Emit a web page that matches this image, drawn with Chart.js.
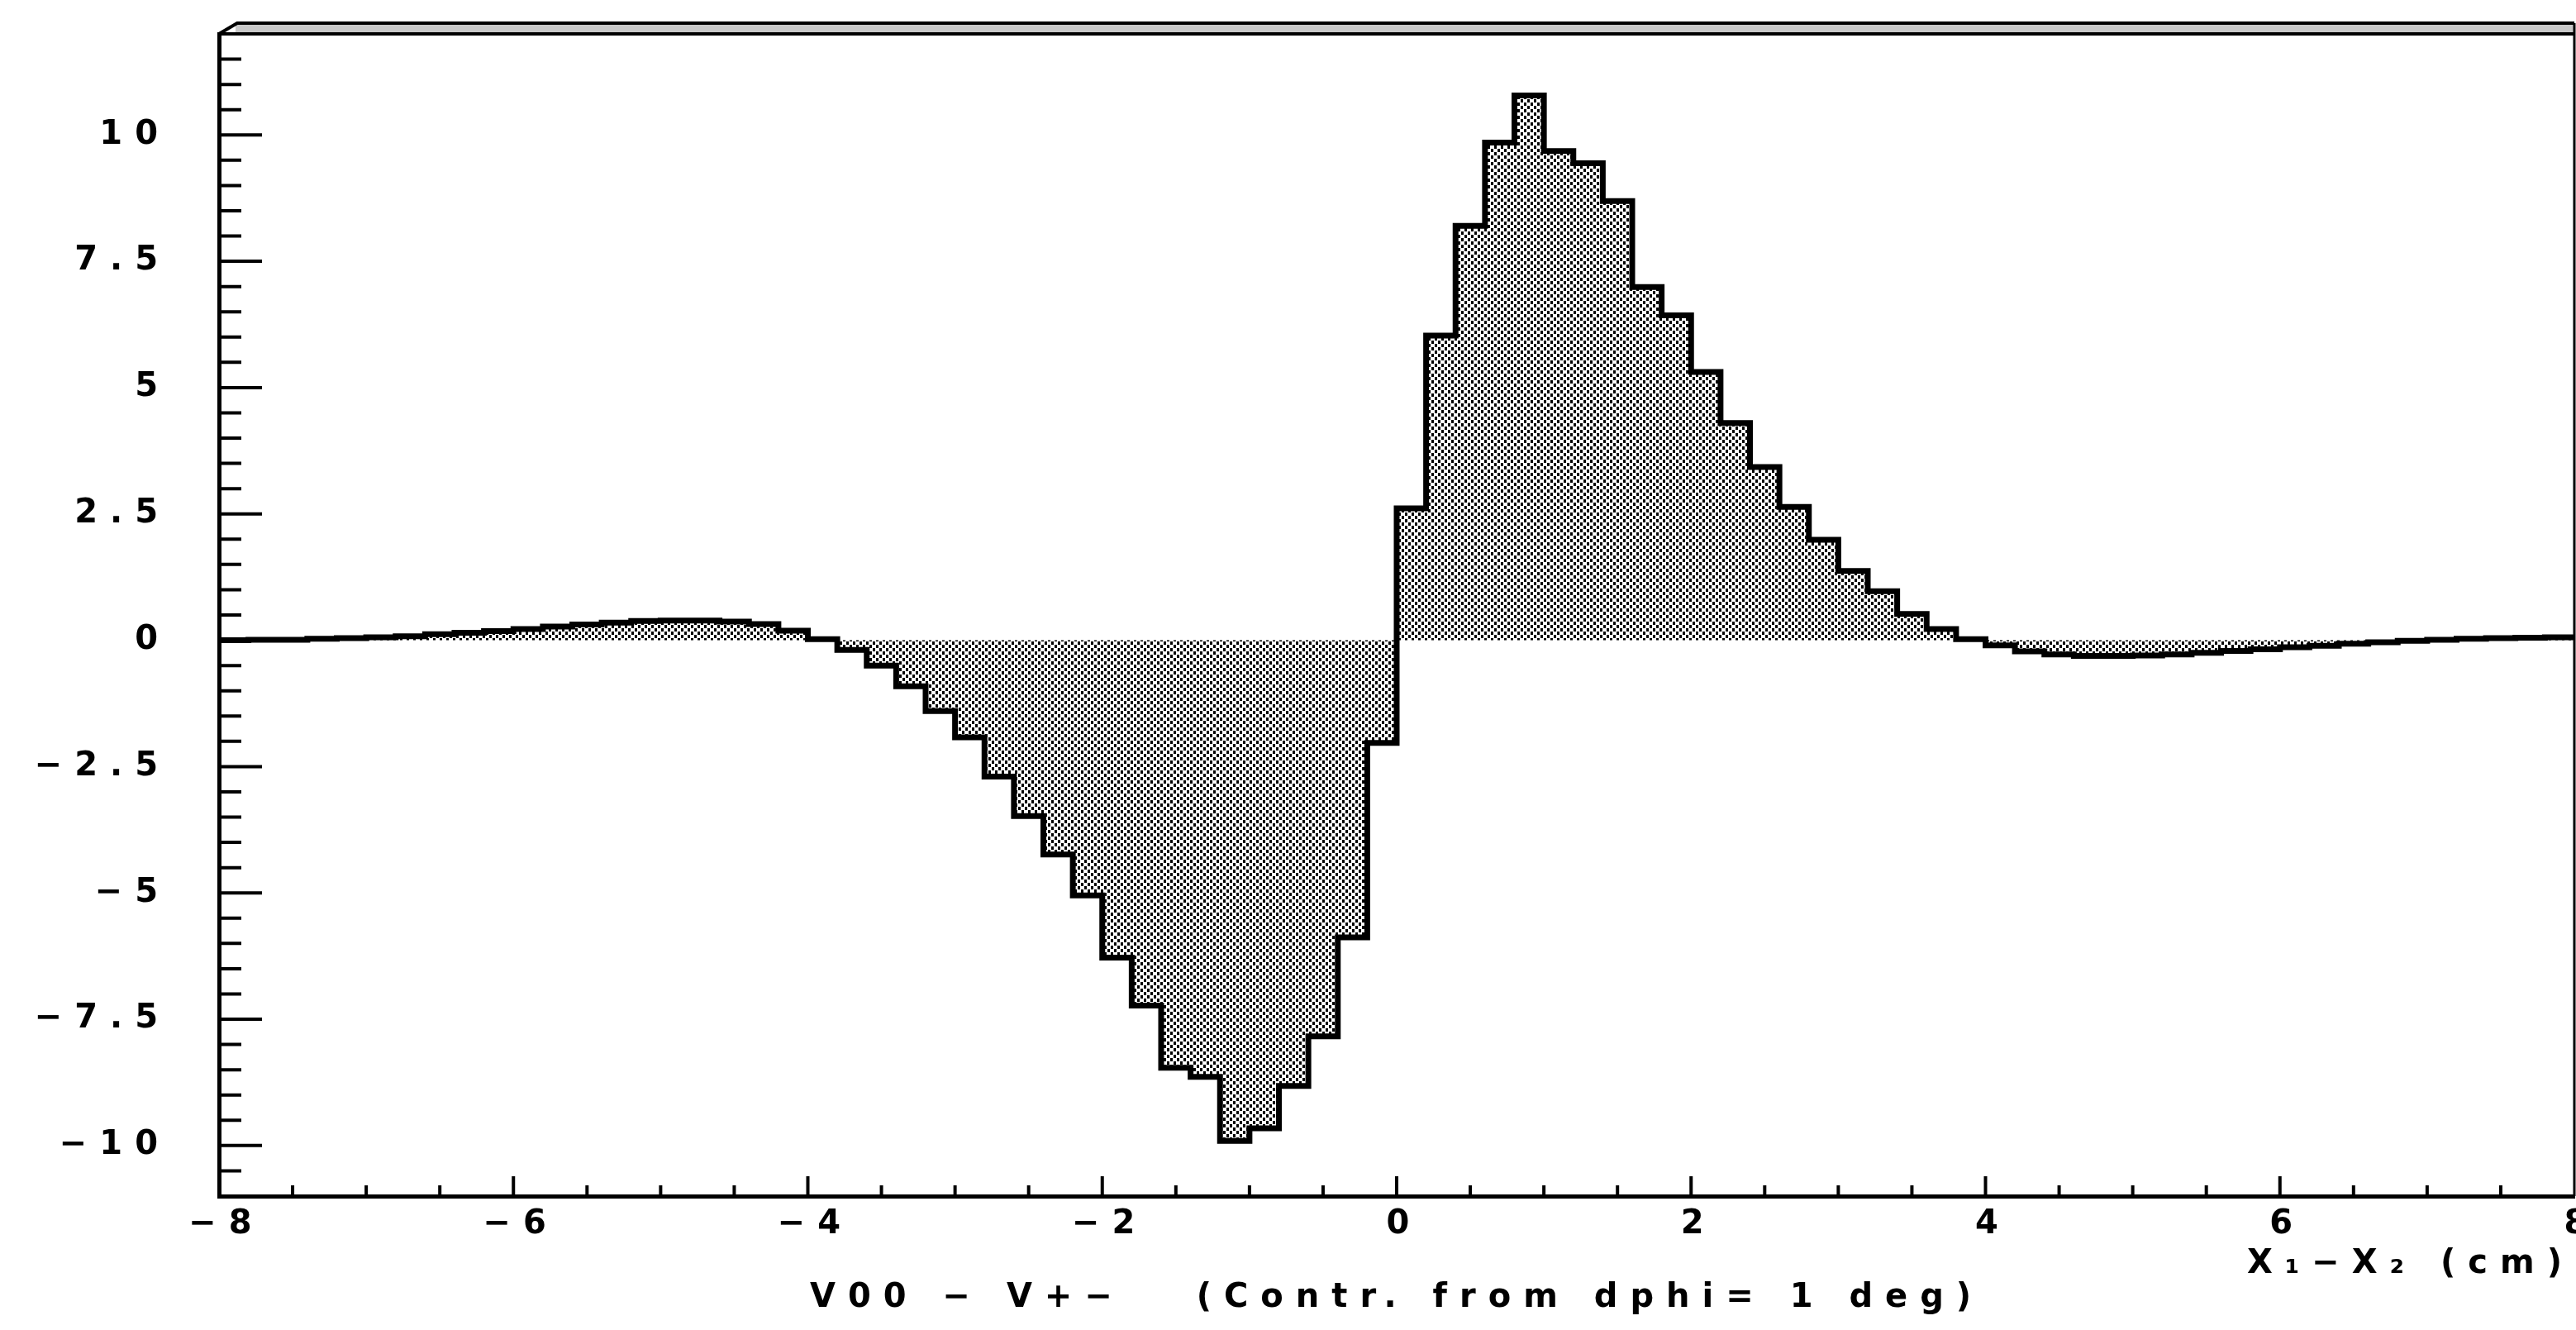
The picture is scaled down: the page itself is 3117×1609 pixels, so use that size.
<!DOCTYPE html>
<html>
<head>
<meta charset="utf-8">
<script src="https://cdn.jsdelivr.net/npm/chart.js@4.4.1/dist/chart.umd.min.js"></script>
<style>
  html, body { margin: 0; padding: 0; background: #fff; }
  #wrap { width: 3117px; height: 1609px; }
</style>
</head>
<body>
<div id="wrap"><canvas id="histo"></canvas></div>
<script>
// low edges of the 80 bins, plus the upper edge of the last one
var binEdges = [
  -8.0, -7.8, -7.6, -7.4, -7.2, -7.0, -6.8, -6.6, -6.4, -6.2,
  -6.0, -5.8, -5.6, -5.4, -5.2, -5.0, -4.8, -4.6, -4.4, -4.2,
  -4.0, -3.8, -3.6, -3.4, -3.2, -3.0, -2.8, -2.6, -2.4, -2.2,
  -2.0, -1.8, -1.6, -1.4, -1.2, -1.0, -0.8, -0.6, -0.4, -0.2,
   0.0,  0.2,  0.4,  0.6,  0.8,  1.0,  1.2,  1.4,  1.6,  1.8,
   2.0,  2.2,  2.4,  2.6,  2.8,  3.0,  3.2,  3.4,  3.6,  3.8,
   4.0,  4.2,  4.4,  4.6,  4.8,  5.0,  5.2,  5.4,  5.6,  5.8,
   6.0,  6.2,  6.4,  6.6,  6.8,  7.0,  7.2,  7.4,  7.6,  7.8,
   8.0
];

// V00 - V+- contents, one value per bin
var binValues = [
   0.00,  0.01,  0.01,  0.03,  0.04,  0.06,  0.08,  0.12,  0.15,  0.18,
   0.22,  0.27,  0.31,  0.35,  0.38,  0.39,  0.39,  0.37,  0.32,  0.19,
   0.02, -0.19, -0.50, -0.91, -1.40, -1.92, -2.70, -3.48, -4.24, -5.05,
  -6.28, -7.23, -8.46, -8.64, -9.91, -9.66, -8.82, -7.84, -5.88, -2.03,
   2.61,  6.03,  8.20,  9.85, 10.78,  9.68,  9.44,  8.69,  6.99,  6.43,
   5.31,  4.30,  3.43,  2.64,  1.99,  1.37,  0.97,  0.52,  0.22,  0.02,
  -0.10, -0.22, -0.28, -0.31, -0.31, -0.30, -0.28, -0.25, -0.21, -0.18,
  -0.14, -0.11, -0.07, -0.04, -0.01,  0.01,  0.03,  0.04,  0.05,  0.06
];

var xTickValues = [-8, -6, -4, -2, 0, 2, 4, 6, 8];
var yTickValues = [-10, -7.5, -5, -2.5, 0, 2.5, 5, 7.5, 10];

var xTitle = 'X\u2081\u2212X\u2082 (cm)';
var plotTitle = 'V00 \u2212 V+\u2212   (Contr. from dphi= 1 deg)';

// build the step points: every bin value is held up to the next edge
var points = [];
for (var i = 0; i < binValues.length; i++) {
    points.push({ x: binEdges[i], y: binValues[i] });
}
points.push({ x: binEdges[binEdges.length - 1], y: binValues[binValues.length - 1] });

// halftone dot pattern like the printed shading
function dotPattern() {
    var c = document.createElement('canvas');
    c.width = 8;
    c.height = 8;
    var g = c.getContext('2d');
    g.fillStyle = '#000';
    g.fillRect(0, 0, 3, 4);
    g.fillRect(4, 4, 3, 4);
    return g.createPattern(c, 'repeat');
}
var dots = dotPattern();

function minusLabel(v) {
    return v < 0 ? '\u2212' + Math.abs(v) : String(v);
}

var labelFont = { family: 'DejaVu Sans', size: 40, weight: 'bold' };
var spacing = 15;

// inward ticks, the frame top / right, and the wide letter spacing
var paperFrame = {
    id: 'paperFrame',
    beforeDraw: function (chart) {
        chart.ctx.letterSpacing = spacing + 'px';
    },
    afterDraw: function (chart) {
        var ctx = chart.ctx;
        var a = chart.chartArea;
        var xs = chart.scales.x;
        var ys = chart.scales.y;
        var k, v, p, len;
        ctx.save();
        ctx.strokeStyle = '#000';
        ctx.lineCap = 'butt';

        ctx.lineWidth = 4;
        ctx.beginPath();
        for (k = Math.ceil(ys.min / 0.5); k * 0.5 <= ys.max; k++) {
            v = k * 0.5;
            if (v <= ys.min || v >= ys.max) continue;
            p = ys.getPixelForValue(v);
            len = (v % 2.5 === 0) ? 52 : 27;
            ctx.moveTo(a.left, p);
            ctx.lineTo(a.left + len, p);
        }
        for (k = Math.ceil(xs.min / 0.5); k * 0.5 <= xs.max; k++) {
            v = k * 0.5;
            if (v <= xs.min || v >= xs.max) continue;
            p = xs.getPixelForValue(v);
            len = (v % 2 === 0) ? 24 : 13;
            ctx.moveTo(p, a.bottom);
            ctx.lineTo(p, a.bottom - len);
        }
        ctx.stroke();

        // double top edge with shading in between
        ctx.fillStyle = '#c8c8c8';
        ctx.fillRect(a.left + 20, a.top - 13, a.right - a.left - 20, 13);
        ctx.lineWidth = 4;
        ctx.beginPath();
        ctx.moveTo(a.left, a.top);
        ctx.lineTo(a.right, a.top);
        ctx.moveTo(a.left, a.top);
        ctx.lineTo(a.left + 22, a.top - 13);
        ctx.lineTo(a.right, a.top - 13);
        ctx.stroke();

        ctx.lineWidth = 3;
        ctx.beginPath();
        ctx.moveTo(a.right, a.top - 13);
        ctx.lineTo(a.right, a.bottom);
        ctx.stroke();
        ctx.restore();
    }
};

var histo = new Chart(document.getElementById('histo'), {
    type: 'line',
    data: {
        datasets: [{
            label: 'V00 - V+-',
            data: points,
            stepped: true,
            fill: 'origin',
            backgroundColor: dots,
            borderColor: '#000',
            borderWidth: 7,
            borderJoinStyle: 'miter',
            pointRadius: 0,
            tension: 0
        }]
    },
    options: {
        responsive: true,
        maintainAspectRatio: false,
        animation: false,
        events: [],
        layout: { padding: { left: 0, right: 2, top: 41, bottom: 14 } },
        scales: {
            x: {
                type: 'linear',
                min: -8,
                max: 8,
                grid: { display: false, drawTicks: false },
                border: { display: true, color: '#000', width: 5 },
                afterBuildTicks: function (s) {
                    s.ticks = xTickValues.map(function (v) { return { value: v }; });
                },
                afterFit: function (s) {
                    s.height = 100;
                    s.paddingLeft = 0;
                    s.paddingRight = 0;
                },
                ticks: {
                    color: '#000',
                    font: labelFont,
                    padding: 11,
                    labelOffset: 9,
                    maxRotation: 0,
                    autoSkip: false,
                    callback: minusLabel
                },
                title: {
                    display: true,
                    text: xTitle,
                    align: 'end',
                    color: '#000',
                    font: labelFont,
                    padding: { top: 0, bottom: -7 }
                }
            },
            y: {
                type: 'linear',
                min: -11,
                max: 12,
                grid: { display: false, drawTicks: false },
                border: { display: true, color: '#000', width: 5 },
                afterBuildTicks: function (s) {
                    s.ticks = yTickValues.map(function (v) { return { value: v }; });
                },
                afterFit: function (s) {
                    s.width = 265;
                    s.paddingTop = 0;
                    s.paddingBottom = 0;
                },
                ticks: {
                    color: '#000',
                    font: labelFont,
                    padding: 74 - spacing,
                    callback: minusLabel
                }
            }
        },
        plugins: {
            legend: { display: false },
            tooltip: { enabled: false },
            title: {
                display: true,
                position: 'bottom',
                fullSize: false,
                text: plotTitle,
                color: '#000',
                font: labelFont,
                padding: { top: 0, bottom: 0 }
            }
        }
    },
    plugins: [paperFrame]
});
</script>
</body>
</html>
